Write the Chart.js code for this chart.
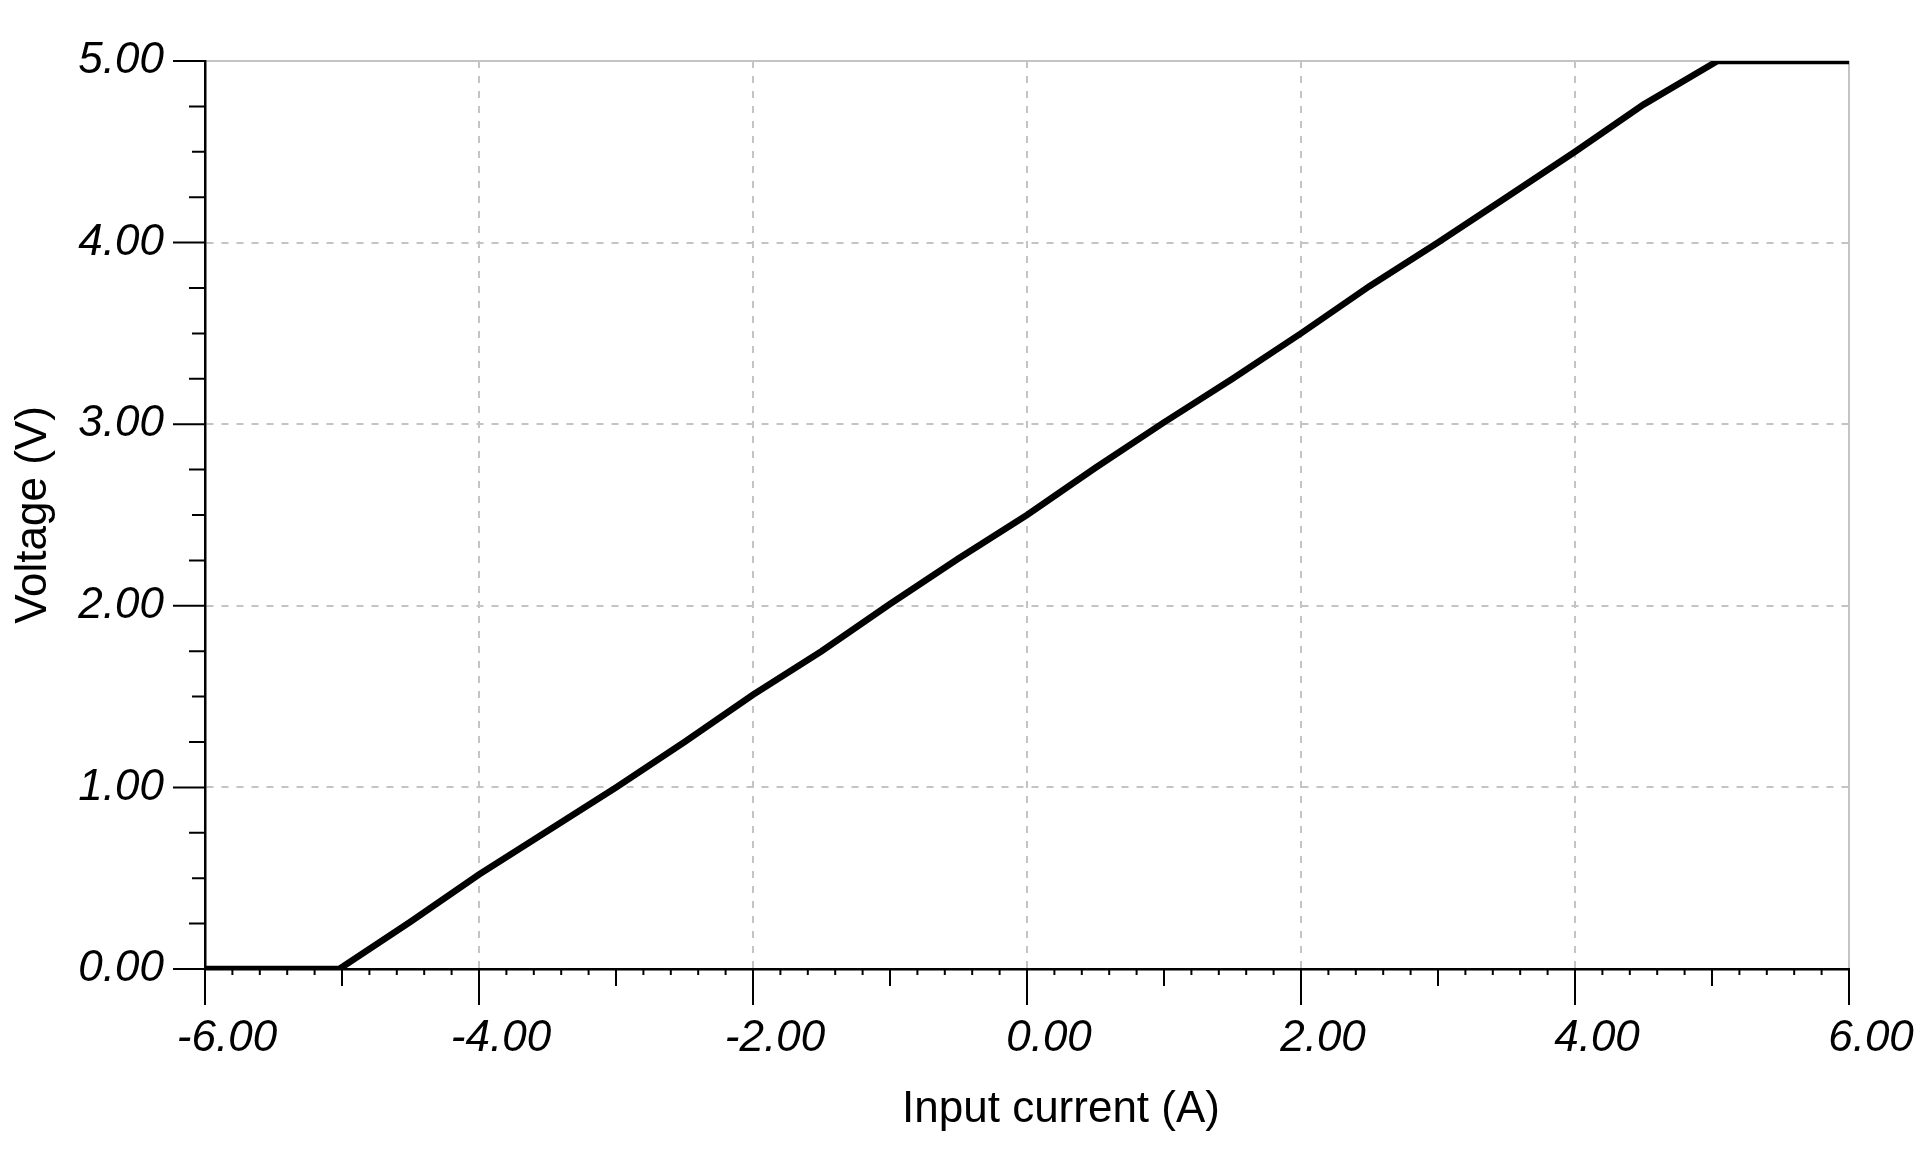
<!DOCTYPE html>
<html>
<head>
<meta charset="utf-8">
<title>Voltage vs input current</title>
<script src="https://cdn.jsdelivr.net/npm/chart.js@4.4.1/dist/chart.umd.min.js"></script>
<style>
    html, body { margin: 0; padding: 0; background: #fff; }
    #chartBox { width: 1922px; height: 1172px; }
</style>
</head>
<body>
<div id="chartBox"><canvas id="ivChart" width="1922" height="1172"></canvas></div>
<script>
// Input current (A) and output voltage (V)
const current = [-6.00, -5.02, -4.50, -4.00, -3.50, -3.00, -2.50, -2.00, -1.50, -1.00, -0.50, 0.00,
                 0.50, 1.00, 1.50, 2.00, 2.50, 3.00, 3.50, 4.00, 4.50, 5.04, 6.00];
const voltage = [0.00, 0.00, 0.26, 0.52, 0.76, 1.00, 1.25, 1.51, 1.75, 2.01, 2.26, 2.50,
                 2.76, 3.01, 3.25, 3.50, 3.76, 4.00, 4.25, 4.50, 4.76, 5.00, 5.00];

// Axis ranges and labelled ticks
const xRange = [-6, 6];
const yRange = [0, 5];
const xStep = 2;
const yStep = 1;
const xTitle = 'Input current (A)';
const yTitle = 'Voltage (V)';

const gridGray = '#c4c4c4';
const axisBlack = '#000';
const fontFamily = "'Liberation Sans', Arial, sans-serif";

Chart.defaults.font.family = fontFamily;
Chart.defaults.color = '#000';

// Tick marks of different lengths (major / medium / minor) and the x title
const tickMarks = {
    id: 'tickMarks',
    afterDraw(chart) {
        const { ctx, chartArea, scales: { x, y } } = chart;
        const axisY = y.getPixelForValue(yRange[0]);
        const axisX = x.getPixelForValue(xRange[0]);
        ctx.save();
        ctx.strokeStyle = axisBlack;
        ctx.lineWidth = 2;
        ctx.beginPath();
        // x axis: major every 2, medium every 1, minor every 0.2
        for (let i = 0; i <= 60; i++) {
            const px = x.getPixelForValue(xRange[0] + i * 0.2);
            const len = i % 10 === 0 ? 36 : (i % 5 === 0 ? 17 : 6);
            ctx.moveTo(px, axisY);
            ctx.lineTo(px, axisY + len);
        }
        // y axis: major every 1, minor every 0.25
        for (let i = 0; i <= 20; i++) {
            const py = y.getPixelForValue(yRange[0] + i * 0.25);
            const len = i % 4 === 0 ? 32 : (i % 2 === 0 ? 13 : 16);
            ctx.moveTo(axisX, py);
            ctx.lineTo(axisX - len, py);
        }
        ctx.stroke();

        // x axis title sits a little right of the plot centre in the original
        ctx.fillStyle = '#000';
        ctx.font = '44px ' + fontFamily;
        ctx.textAlign = 'center';
        ctx.textBaseline = 'alphabetic';
        ctx.fillText(xTitle, (chartArea.left + chartArea.right) / 2 + 34, 1122);
        ctx.restore();
    }
};

const gridColor = (min) => (c) => (c.tick && c.tick.value === min) ? 'rgba(0,0,0,0)' : gridGray;
const gridDash = (max) => (c) => (c.tick && c.tick.value === max) ? [] : [7, 8];

new Chart(document.getElementById('ivChart'), {
    type: 'line',
    data: {
        datasets: [{
            data: current.map((c, i) => ({ x: c, y: voltage[i] })),
            borderColor: '#000',
            borderWidth: 6.5,
            pointRadius: 0,
            tension: 0,
            fill: false
        }]
    },
    options: {
        responsive: false,
        animation: false,
        layout: { padding: { top: 61, right: 73, left: 0, bottom: 0 } },
        plugins: {
            legend: { display: false },
            tooltip: { enabled: false }
        },
        scales: {
            x: {
                type: 'linear',
                min: xRange[0],
                max: xRange[1],
                afterFit: (s) => { s.height = 203; s.paddingLeft = 0; s.paddingRight = 0; },
                ticks: {
                    stepSize: xStep,
                    padding: 43,
                    labelOffset: 22,
                    maxRotation: 0,
                    font: { size: 44, style: 'italic' },
                    callback: (v) => v.toFixed(2)
                },
                grid: {
                    drawTicks: false,
                    lineWidth: 2,
                    color: gridColor(xRange[0])
                },
                border: { color: axisBlack, width: 2.5, dash: gridDash(xRange[1]) },
                title: { display: false }
            },
            y: {
                min: yRange[0],
                max: yRange[1],
                afterFit: (s) => { s.width = 205; s.paddingTop = 0; s.paddingBottom = 0; },
                ticks: {
                    stepSize: yStep,
                    padding: 41,
                    font: { size: 44, style: 'italic' },
                    callback: (v) => v.toFixed(2)
                },
                grid: {
                    drawTicks: false,
                    lineWidth: 2,
                    color: gridColor(yRange[0])
                },
                border: { color: axisBlack, width: 2.5, dash: gridDash(yRange[1]) },
                title: {
                    display: true,
                    text: yTitle,
                    font: { size: 44 },
                    padding: { top: 7 }
                }
            }
        }
    },
    plugins: [tickMarks]
});
</script>
</body>
</html>
